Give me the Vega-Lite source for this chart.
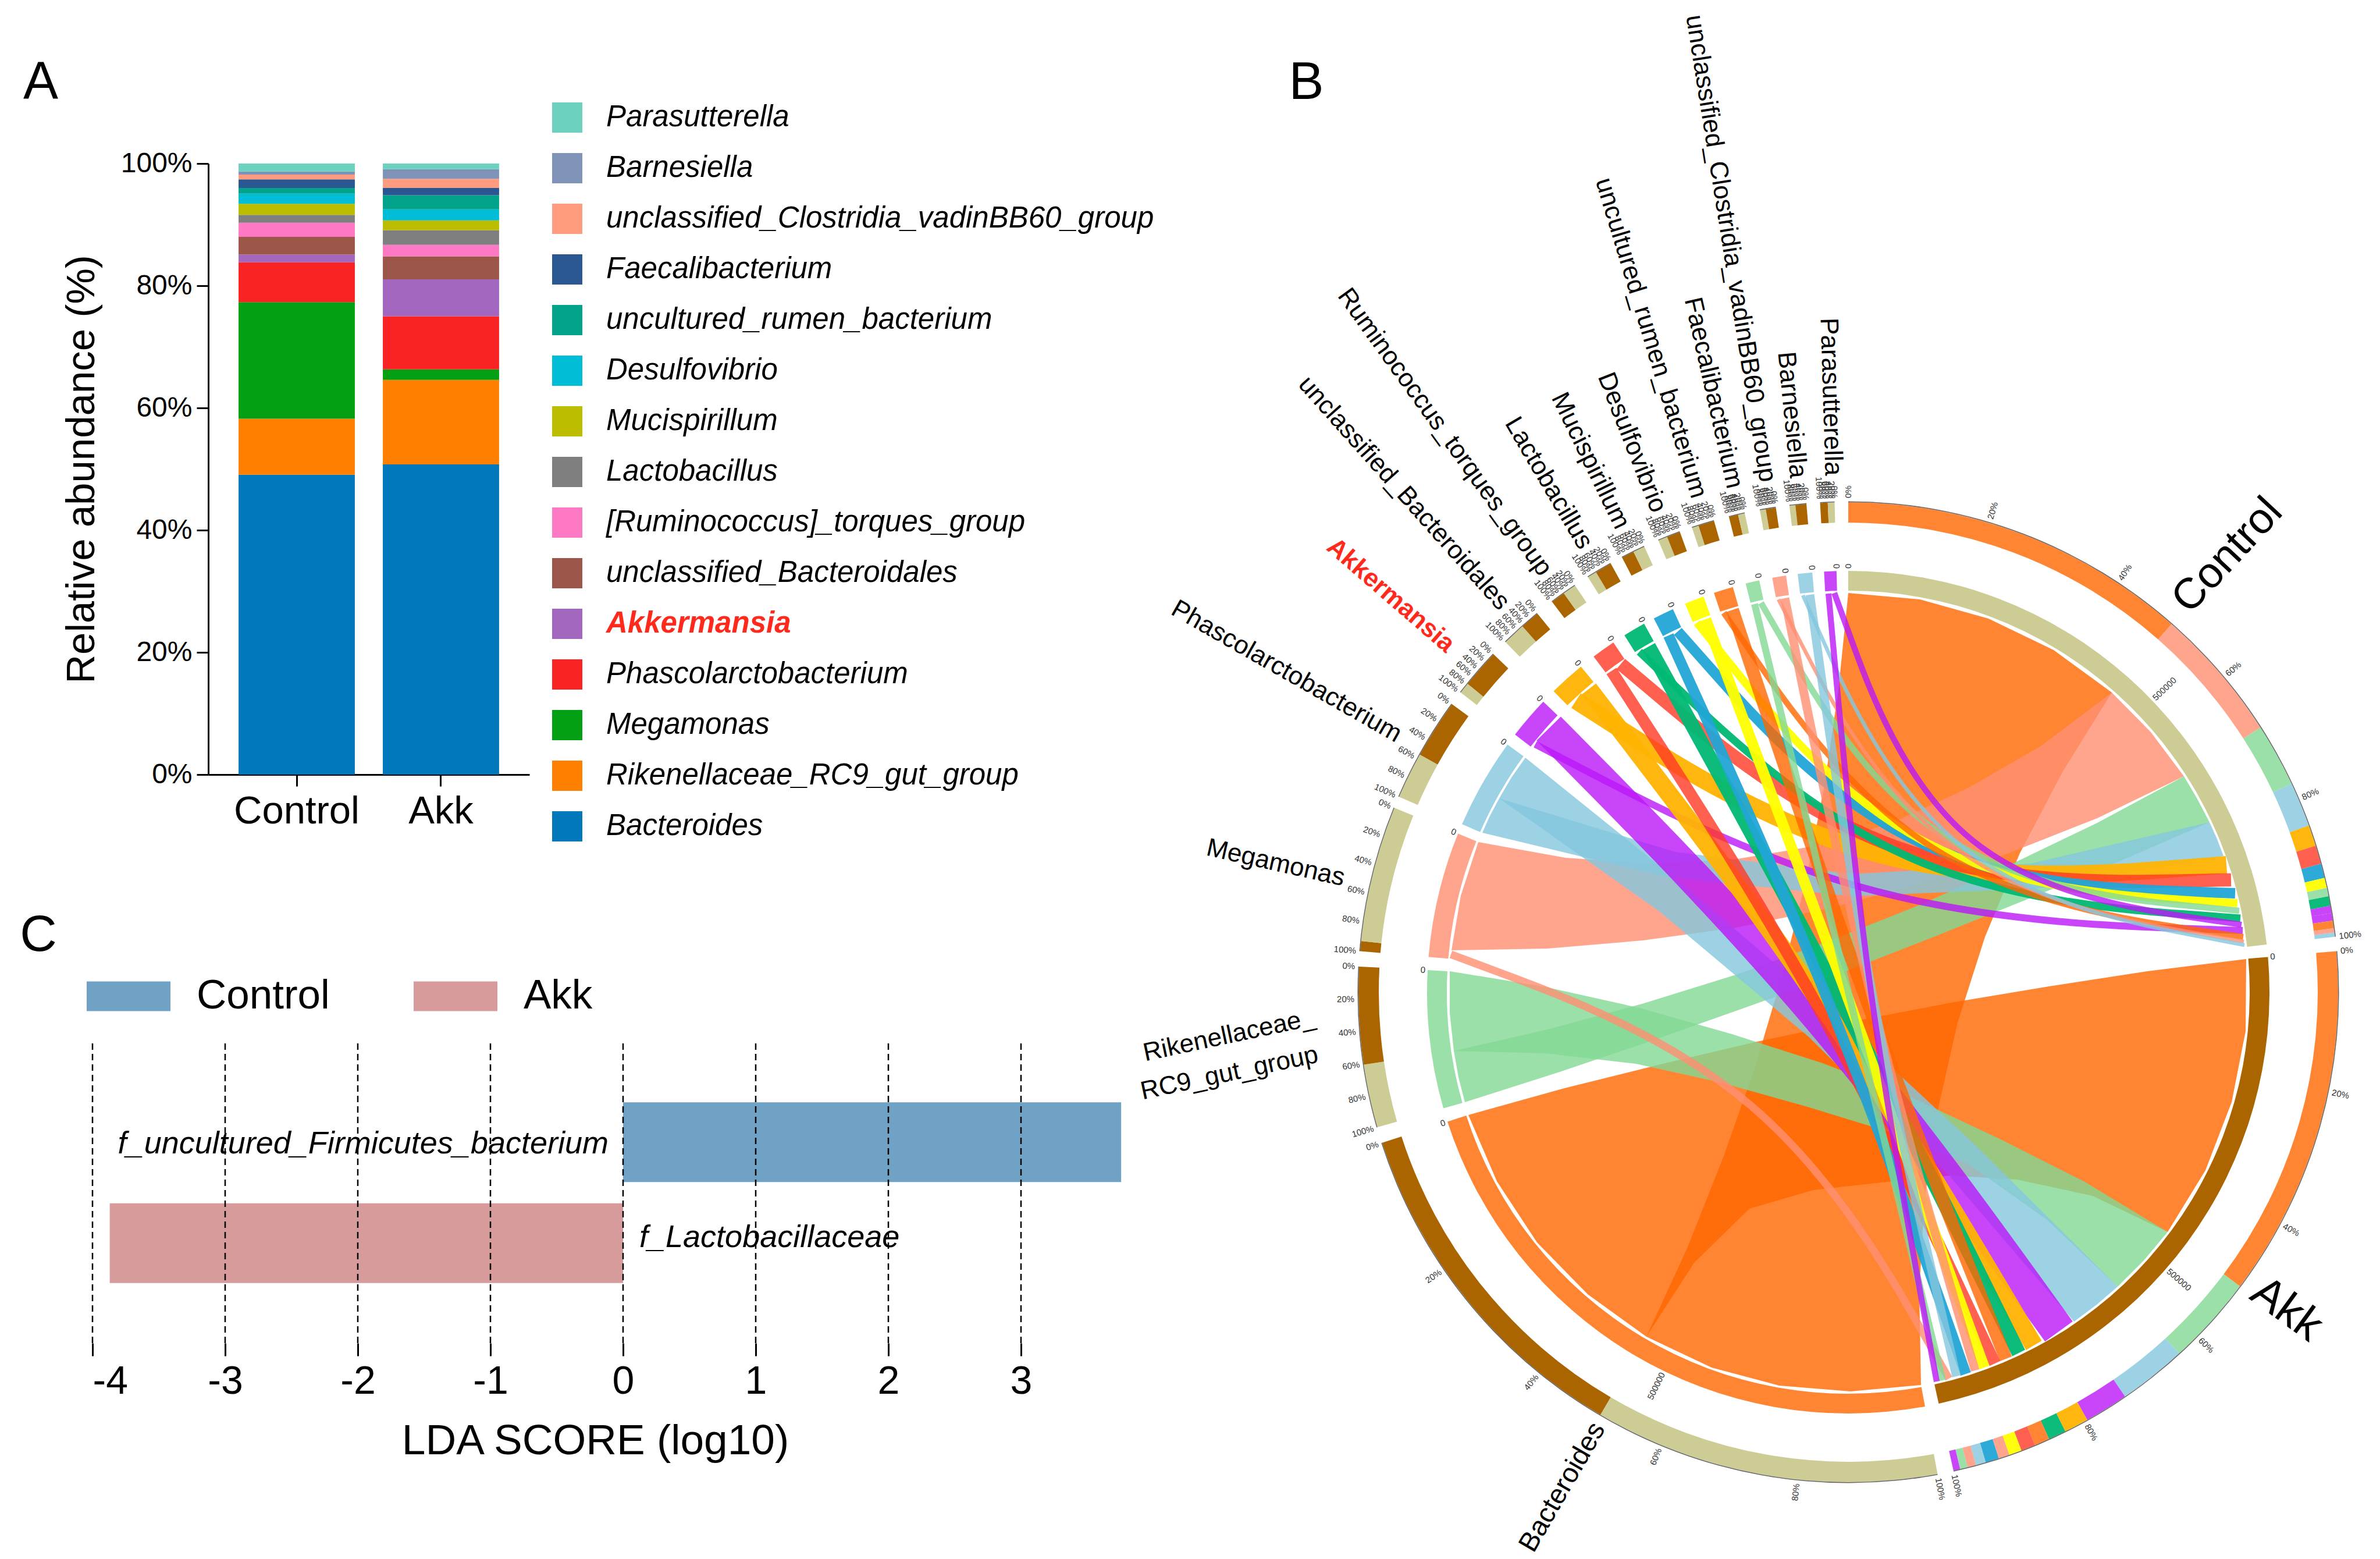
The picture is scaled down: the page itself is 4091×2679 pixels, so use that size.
{"$schema":"https://vega.github.io/schema/vega-lite/v6.json","width":4091,"height":2679,"padding":0,"autosize":{"type":"none"},"background":"white",
"config":{"view":{"stroke":null},"font":"Liberation Sans","axis":{"labelFont":"Liberation Sans","titleFont":"Liberation Sans","labelLimit":1500,"titleLimit":2000},"legend":{"labelFont":"Liberation Sans","labelLimit":1500},"text":{"font":"Liberation Sans"}},
"datasets":{
"abund":[
{"group":"Control","genus":"Bacteroides","rank":1,"abundance":49.06},{"group":"Control","genus":"Rikenellaceae_RC9_gut_group","rank":2,"abundance":9.19},{"group":"Control","genus":"Megamonas","rank":3,"abundance":19.05},{"group":"Control","genus":"Phascolarctobacterium","rank":4,"abundance":6.54},{"group":"Control","genus":"Akkermansia","rank":5,"abundance":1.26},{"group":"Control","genus":"unclassified_Bacteroidales","rank":6,"abundance":2.9},{"group":"Control","genus":"[Ruminococcus]_torques_group","rank":7,"abundance":2.3},{"group":"Control","genus":"Lactobacillus","rank":8,"abundance":1.3},{"group":"Control","genus":"Mucispirillum","rank":9,"abundance":1.8},{"group":"Control","genus":"Desulfovibrio","rank":10,"abundance":1.67},{"group":"Control","genus":"uncultured_rumen_bacterium","rank":11,"abundance":0.93},{"group":"Control","genus":"Faecalibacterium","rank":12,"abundance":1.4},{"group":"Control","genus":"unclassified_Clostridia_vadinBB60_group","rank":13,"abundance":0.8},{"group":"Control","genus":"Barnesiella","rank":14,"abundance":0.5},{"group":"Control","genus":"Parasutterella","rank":15,"abundance":1.3},
{"group":"Akk","genus":"Bacteroides","rank":1,"abundance":50.77},{"group":"Akk","genus":"Rikenellaceae_RC9_gut_group","rank":2,"abundance":13.83},{"group":"Akk","genus":"Megamonas","rank":3,"abundance":1.7},{"group":"Akk","genus":"Phascolarctobacterium","rank":4,"abundance":8.7},{"group":"Akk","genus":"Akkermansia","rank":5,"abundance":6.04},{"group":"Akk","genus":"unclassified_Bacteroidales","rank":6,"abundance":3.76},{"group":"Akk","genus":"[Ruminococcus]_torques_group","rank":7,"abundance":1.9},{"group":"Akk","genus":"Lactobacillus","rank":8,"abundance":2.4},{"group":"Akk","genus":"Mucispirillum","rank":9,"abundance":1.6},{"group":"Akk","genus":"Desulfovibrio","rank":10,"abundance":1.8},{"group":"Akk","genus":"uncultured_rumen_bacterium","rank":11,"abundance":2.3},{"group":"Akk","genus":"Faecalibacterium","rank":12,"abundance":1.2},{"group":"Akk","genus":"unclassified_Clostridia_vadinBB60_group","rank":13,"abundance":1.5},{"group":"Akk","genus":"Barnesiella","rank":14,"abundance":1.57},{"group":"Akk","genus":"Parasutterella","rank":15,"abundance":0.93}],
"lda":[{"feature":"f_uncultured_Firmicutes_bacterium","group":"Control","score":3.755},{"feature":"f_Lactobacillaceae","group":"Akk","score":-3.87}],
"ldaTicks":[{"score":-4},{"score":-3},{"score":-2},{"score":-1},{"score":0},{"score":1},{"score":2},{"score":3}],
"sectors":[{"name":"Control","start":0,"end":83.5},{"name":"Akk","start":85.2,"end":167.6},{"name":"Bacteroides","start":169.5,"end":252.1},{"name":"Rikenellaceae_RC9_gut_group","start":254,"end":273},{"name":"Megamonas","start":274.8,"end":292.1},{"name":"Phascolarctobacterium","start":293.5,"end":306},{"name":"Akkermansia","start":307.7,"end":313.6},{"name":"unclassified_Bacteroidales","start":315.6,"end":320.6},{"name":"[Ruminococcus]_torques_group","start":322.8,"end":326.1},{"name":"Lactobacillus","start":327.9,"end":331},{"name":"Mucispirillum","start":332.5,"end":335.4},{"name":"Desulfovibrio","start":337.2,"end":339.9},{"name":"uncultured_rumen_bacterium","start":341.4,"end":344.1},{"name":"Faecalibacterium","start":345.9,"end":347.8},{"name":"unclassified_Clostridia_vadinBB60_group","start":349.6,"end":351.5},{"name":"Barnesiella","start":353.1,"end":355.1},{"name":"Parasutterella","start":356.7,"end":358.4}],
"segments":[
{"key":"Bacteroides","start":0,"end":41.3},{"key":"Megamonas","start":41.3,"end":57.3},{"key":"Rikenellaceae_RC9_gut_group","start":57.3,"end":64.8},{"key":"Phascolarctobacterium","start":64.8,"end":70.1},{"key":"unclassified_Bacteroidales","start":70.1,"end":72.6},{"key":"[Ruminococcus]_torques_group","start":72.6,"end":74.8},{"key":"Mucispirillum","start":74.8,"end":76.5},{"key":"Desulfovibrio","start":76.5,"end":77.7},{"key":"Faecalibacterium","start":77.7,"end":78.7},{"key":"Lactobacillus","start":78.7,"end":79.85},{"key":"Parasutterella","start":79.85,"end":80.7},{"key":"Akkermansia","start":80.7,"end":81.6},{"key":"uncultured_rumen_bacterium","start":81.6,"end":82.5},{"key":"unclassified_Clostridia_vadinBB60_group","start":82.5,"end":83},{"key":"Barnesiella","start":83,"end":83.5},
{"key":"Bacteroides","start":85.2,"end":126.9},{"key":"Rikenellaceae_RC9_gut_group","start":126.9,"end":137.5},{"key":"Phascolarctobacterium","start":137.5,"end":145.6},{"key":"Akkermansia","start":145.6,"end":150.8},{"key":"unclassified_Bacteroidales","start":150.8,"end":153.7},{"key":"Lactobacillus","start":153.7,"end":155.8},{"key":"uncultured_rumen_bacterium","start":155.8,"end":157.6},{"key":"[Ruminococcus]_torques_group","start":157.6,"end":159.3},{"key":"Desulfovibrio","start":159.3,"end":160.8},{"key":"unclassified_Clostridia_vadinBB60_group","start":160.8,"end":162.1},{"key":"Mucispirillum","start":162.1,"end":163.7},{"key":"Barnesiella","start":163.7,"end":164.9},{"key":"Megamonas","start":164.9,"end":165.9},{"key":"Faecalibacterium","start":165.9,"end":166.8},{"key":"Parasutterella","start":166.8,"end":167.6},
{"key":"Control","start":169.5,"end":210.4},{"key":"Akk","start":210.4,"end":252.1},{"key":"Control","start":254,"end":261.5},{"key":"Akk","start":261.5,"end":273},{"key":"Akk","start":274.8,"end":276},{"key":"Control","start":276,"end":292.1},{"key":"Control","start":293.5,"end":299},{"key":"Akk","start":299,"end":306},{"key":"Control","start":307.7,"end":309},{"key":"Akk","start":309,"end":313.6},{"key":"Control","start":315.6,"end":318.3},{"key":"Akk","start":318.3,"end":320.6},{"key":"Akk","start":322.8,"end":324.5},{"key":"Control","start":324.5,"end":326.1},{"key":"Control","start":327.9,"end":329},{"key":"Akk","start":329,"end":331},{"key":"Akk","start":332.5,"end":334},{"key":"Control","start":334,"end":335.4},{"key":"Control","start":337.2,"end":338.3},{"key":"Akk","start":338.3,"end":339.9},{"key":"Control","start":341.4,"end":342.2},{"key":"Akk","start":342.2,"end":344.1},{"key":"Akk","start":345.9,"end":347},{"key":"Control","start":347,"end":347.8},{"key":"Control","start":349.6,"end":350.3},{"key":"Akk","start":350.3,"end":351.5},{"key":"Control","start":353.1,"end":353.8},{"key":"Akk","start":353.8,"end":355.1},{"key":"Akk","start":356.7,"end":357.6},{"key":"Control","start":357.6,"end":358.4}],
"ribbons":[
{"id":"BC","species":"Bacteroides","i":0,"x":0,"y":686},{"id":"BC","species":"Bacteroides","i":1,"x":123,"y":675},{"id":"BC","species":"Bacteroides","i":2,"x":241,"y":642},{"id":"BC","species":"Bacteroides","i":3,"x":353,"y":588},{"id":"BC","species":"Bacteroides","i":4,"x":453,"y":515},{"id":"BC","species":"Bacteroides","i":4.5,"x":368,"y":378},{"id":"BC","species":"Bacteroides","i":5,"x":295,"y":239},{"id":"BC","species":"Bacteroides","i":5.5,"x":235,"y":95},{"id":"BC","species":"Bacteroides","i":6,"x":188,"y":-52},{"id":"BC","species":"Bacteroides","i":6.5,"x":154,"y":-202},{"id":"BC","species":"Bacteroides","i":7,"x":131,"y":-357},{"id":"BC","species":"Bacteroides","i":7.5,"x":122,"y":-514},{"id":"BC","species":"Bacteroides","i":8,"x":125,"y":-675},{"id":"BC","species":"Bacteroides","i":9,"x":4,"y":-686},{"id":"BC","species":"Bacteroides","i":10,"x":-119,"y":-676},{"id":"BC","species":"Bacteroides","i":11,"x":-235,"y":-645},{"id":"BC","species":"Bacteroides","i":12,"x":-347,"y":-592},{"id":"BC","species":"Bacteroides","i":12.5,"x":-277,"y":-440},{"id":"BC","species":"Bacteroides","i":13,"x":-215,"y":-284},{"id":"BC","species":"Bacteroides","i":13.5,"x":-160,"y":-128},{"id":"BC","species":"Bacteroides","i":14,"x":-113,"y":31},{"id":"BC","species":"Bacteroides","i":14.5,"x":-73,"y":191},{"id":"BC","species":"Bacteroides","i":15,"x":-41,"y":355},{"id":"BC","species":"Bacteroides","i":15.5,"x":-17,"y":519},
{"id":"BA","species":"Bacteroides","i":0,"x":684,"y":57},{"id":"BA","species":"Bacteroides","i":1,"x":683,"y":-67},{"id":"BA","species":"Bacteroides","i":2,"x":659,"y":-189},{"id":"BA","species":"Bacteroides","i":3,"x":614,"y":-306},{"id":"BA","species":"Bacteroides","i":4,"x":549,"y":-412},{"id":"BA","species":"Bacteroides","i":4.5,"x":420,"y":-350},{"id":"BA","species":"Bacteroides","i":5,"x":290,"y":-322},{"id":"BA","species":"Bacteroides","i":5.5,"x":175,"y":-315},{"id":"BA","species":"Bacteroides","i":6,"x":66,"y":-326},{"id":"BA","species":"Bacteroides","i":6.5,"x":-60,"y":-340},{"id":"BA","species":"Bacteroides","i":7,"x":-170,"y":-372},{"id":"BA","species":"Bacteroides","i":8,"x":-265,"y":-465},{"id":"BA","species":"Bacteroides","i":9,"x":-347,"y":-592},{"id":"BA","species":"Bacteroides","i":10,"x":-448,"y":-519},{"id":"BA","species":"Bacteroides","i":11,"x":-535,"y":-430},{"id":"BA","species":"Bacteroides","i":12,"x":-604,"y":-325},{"id":"BA","species":"Bacteroides","i":13,"x":-653,"y":-211},{"id":"BA","species":"Bacteroides","i":13.5,"x":-488,"y":-165},{"id":"BA","species":"Bacteroides","i":14,"x":-323,"y":-124},{"id":"BA","species":"Bacteroides","i":14.5,"x":-157,"y":-85},{"id":"BA","species":"Bacteroides","i":15,"x":10,"y":-50},{"id":"BA","species":"Bacteroides","i":15.5,"x":177,"y":-18},{"id":"BA","species":"Bacteroides","i":16,"x":345,"y":10},{"id":"BA","species":"Bacteroides","i":16.5,"x":514,"y":36},
{"id":"MC","species":"Megamonas","i":0,"x":453,"y":515},{"id":"MC","species":"Megamonas","i":1,"x":520,"y":447},{"id":"MC","species":"Megamonas","i":2,"x":577,"y":371},{"id":"MC","species":"Megamonas","i":2.5,"x":428,"y":299},{"id":"MC","species":"Megamonas","i":3,"x":276,"y":239},{"id":"MC","species":"Megamonas","i":3.5,"x":122,"y":186},{"id":"MC","species":"Megamonas","i":4,"x":-34,"y":144},{"id":"MC","species":"Megamonas","i":4.5,"x":-192,"y":111},{"id":"MC","species":"Megamonas","i":5,"x":-353,"y":89},{"id":"MC","species":"Megamonas","i":5.5,"x":-517,"y":75},{"id":"MC","species":"Megamonas","i":6,"x":-682,"y":72},{"id":"MC","species":"Megamonas","i":7,"x":-666,"y":166},{"id":"MC","species":"Megamonas","i":8,"x":-636,"y":258},{"id":"MC","species":"Megamonas","i":8.5,"x":-486,"y":231},{"id":"MC","species":"Megamonas","i":9,"x":-340,"y":221},{"id":"MC","species":"Megamonas","i":9.5,"x":-197,"y":228},{"id":"MC","species":"Megamonas","i":10,"x":-59,"y":251},{"id":"MC","species":"Megamonas","i":10.5,"x":75,"y":291},{"id":"MC","species":"Megamonas","i":11,"x":204,"y":350},{"id":"MC","species":"Megamonas","i":11.5,"x":331,"y":423},
{"id":"RC","species":"Rikenellaceae_RC9_gut_group","i":0,"x":577,"y":371},{"id":"RC","species":"Rikenellaceae_RC9_gut_group","i":1,"x":600,"y":332},{"id":"RC","species":"Rikenellaceae_RC9_gut_group","i":2,"x":621,"y":292},{"id":"RC","species":"Rikenellaceae_RC9_gut_group","i":2.5,"x":464,"y":224},{"id":"RC","species":"Rikenellaceae_RC9_gut_group","i":3,"x":306,"y":159},{"id":"RC","species":"Rikenellaceae_RC9_gut_group","i":3.5,"x":147,"y":95},{"id":"RC","species":"Rikenellaceae_RC9_gut_group","i":4,"x":-12,"y":33},{"id":"RC","species":"Rikenellaceae_RC9_gut_group","i":4.5,"x":-173,"y":-25},{"id":"RC","species":"Rikenellaceae_RC9_gut_group","i":5,"x":-334,"y":-82},{"id":"RC","species":"Rikenellaceae_RC9_gut_group","i":5.5,"x":-496,"y":-137},{"id":"RC","species":"Rikenellaceae_RC9_gut_group","i":6,"x":-659,"y":-189},{"id":"RC","species":"Rikenellaceae_RC9_gut_group","i":7,"x":-670,"y":-146},{"id":"RC","species":"Rikenellaceae_RC9_gut_group","i":8,"x":-678,"y":-101},{"id":"RC","species":"Rikenellaceae_RC9_gut_group","i":8.5,"x":-513,"y":-63},{"id":"RC","species":"Rikenellaceae_RC9_gut_group","i":9,"x":-351,"y":-19},{"id":"RC","species":"Rikenellaceae_RC9_gut_group","i":9.5,"x":-190,"y":31},{"id":"RC","species":"Rikenellaceae_RC9_gut_group","i":10,"x":-33,"y":88},{"id":"RC","species":"Rikenellaceae_RC9_gut_group","i":10.5,"x":123,"y":150},{"id":"RC","species":"Rikenellaceae_RC9_gut_group","i":11,"x":276,"y":218},{"id":"RC","species":"Rikenellaceae_RC9_gut_group","i":11.5,"x":428,"y":291},
{"id":"RA","species":"Rikenellaceae_RC9_gut_group","i":0,"x":549,"y":-412},{"id":"RA","species":"Rikenellaceae_RC9_gut_group","i":1,"x":508,"y":-461},{"id":"RA","species":"Rikenellaceae_RC9_gut_group","i":2,"x":463,"y":-506},{"id":"RA","species":"Rikenellaceae_RC9_gut_group","i":2.5,"x":340,"y":-390},{"id":"RA","species":"Rikenellaceae_RC9_gut_group","i":3,"x":206,"y":-295},{"id":"RA","species":"Rikenellaceae_RC9_gut_group","i":3.5,"x":70,"y":-240},{"id":"RA","species":"Rikenellaceae_RC9_gut_group","i":4,"x":-70,"y":-197},{"id":"RA","species":"Rikenellaceae_RC9_gut_group","i":4.5,"x":-220,"y":-155},{"id":"RA","species":"Rikenellaceae_RC9_gut_group","i":5,"x":-365,"y":-123},{"id":"RA","species":"Rikenellaceae_RC9_gut_group","i":5.5,"x":-520,"y":-105},{"id":"RA","species":"Rikenellaceae_RC9_gut_group","i":6,"x":-678,"y":-101},{"id":"RA","species":"Rikenellaceae_RC9_gut_group","i":7,"x":-685,"y":-36},{"id":"RA","species":"Rikenellaceae_RC9_gut_group","i":8,"x":-685,"y":36},{"id":"RA","species":"Rikenellaceae_RC9_gut_group","i":8.5,"x":-525,"y":10},{"id":"RA","species":"Rikenellaceae_RC9_gut_group","i":9,"x":-359,"y":-27},{"id":"RA","species":"Rikenellaceae_RC9_gut_group","i":9.5,"x":-200,"y":-72},{"id":"RA","species":"Rikenellaceae_RC9_gut_group","i":10,"x":-44,"y":-122},{"id":"RA","species":"Rikenellaceae_RC9_gut_group","i":10.5,"x":107,"y":-180},{"id":"RA","species":"Rikenellaceae_RC9_gut_group","i":11,"x":258,"y":-251},{"id":"RA","species":"Rikenellaceae_RC9_gut_group","i":11.5,"x":405,"y":-325},
{"id":"PC","species":"Phascolarctobacterium","i":0,"x":621,"y":292},{"id":"PC","species":"Phascolarctobacterium","i":1,"x":634,"y":263},{"id":"PC","species":"Phascolarctobacterium","i":2,"x":645,"y":234},{"id":"PC","species":"Phascolarctobacterium","i":3,"x":324,"y":178},{"id":"PC","species":"Phascolarctobacterium","i":4,"x":5,"y":165},{"id":"PC","species":"Phascolarctobacterium","i":5,"x":-312,"y":198},{"id":"PC","species":"Phascolarctobacterium","i":6,"x":-629,"y":274},{"id":"PC","species":"Phascolarctobacterium","i":7,"x":-617,"y":301},{"id":"PC","species":"Phascolarctobacterium","i":8,"x":-600,"y":333},{"id":"PC","species":"Phascolarctobacterium","i":9,"x":-297,"y":241},{"id":"PC","species":"Phascolarctobacterium","i":10,"x":7,"y":203},{"id":"PC","species":"Phascolarctobacterium","i":11,"x":313,"y":221},
{"id":"PA","species":"Phascolarctobacterium","i":0,"x":463,"y":-506},{"id":"PA","species":"Phascolarctobacterium","i":1,"x":427,"y":-537},{"id":"PA","species":"Phascolarctobacterium","i":2,"x":388,"y":-566},{"id":"PA","species":"Phascolarctobacterium","i":3,"x":169,"y":-310},{"id":"PA","species":"Phascolarctobacterium","i":4,"x":-69,"y":-76},{"id":"PA","species":"Phascolarctobacterium","i":5,"x":-325,"y":139},{"id":"PA","species":"Phascolarctobacterium","i":6,"x":-600,"y":333},{"id":"PA","species":"Phascolarctobacterium","i":7,"x":-579,"y":369},{"id":"PA","species":"Phascolarctobacterium","i":8,"x":-555,"y":403},{"id":"PA","species":"Phascolarctobacterium","i":9,"x":-289,"y":189},{"id":"PA","species":"Phascolarctobacterium","i":10,"x":-30,"y":-33},{"id":"PA","species":"Phascolarctobacterium","i":11,"x":221,"y":-265}],
"flows":[
{"id":"UC","species":"unclassified_Bacteroidales","span":2.5,"i":0,"x":-468,"y":501},{"id":"UC","species":"unclassified_Bacteroidales","span":2.5,"i":1,"x":44,"y":173},{"id":"UC","species":"unclassified_Bacteroidales","span":2.5,"i":2,"x":650,"y":219},
{"id":"TC","species":"[Ruminococcus]_torques_group","span":1.9,"i":0,"x":-391,"y":564},{"id":"TC","species":"[Ruminococcus]_torques_group","span":1.9,"i":1,"x":64,"y":182},{"id":"TC","species":"[Ruminococcus]_torques_group","span":1.9,"i":2,"x":658,"y":193},
{"id":"MuC","species":"Mucispirillum","span":1.5,"i":0,"x":-293,"y":620},{"id":"MuC","species":"Mucispirillum","span":1.5,"i":1,"x":89,"y":190},{"id":"MuC","species":"Mucispirillum","span":1.5,"i":2,"x":665,"y":170},
{"id":"DC","species":"Desulfovibrio","span":1.15,"i":0,"x":-260,"y":635},{"id":"DC","species":"Desulfovibrio","span":1.15,"i":1,"x":98,"y":189},{"id":"DC","species":"Desulfovibrio","span":1.15,"i":2,"x":669,"y":153},
{"id":"FC","species":"Faecalibacterium","span":0.9,"i":0,"x":-150,"y":669},{"id":"FC","species":"Faecalibacterium","span":0.9,"i":1,"x":125,"y":194},{"id":"FC","species":"Faecalibacterium","span":0.9,"i":2,"x":672,"y":140},
{"id":"LC","species":"Lactobacillus","span":1.1,"i":0,"x":-359,"y":585},{"id":"LC","species":"Lactobacillus","span":1.1,"i":1,"x":76,"y":171},{"id":"LC","species":"Lactobacillus","span":1.1,"i":2,"x":674,"y":127},
{"id":"PsC","species":"Parasutterella","span":0.85,"i":0,"x":-24,"y":686},{"id":"PsC","species":"Parasutterella","span":0.85,"i":1,"x":156,"y":192},{"id":"PsC","species":"Parasutterella","span":0.85,"i":2,"x":676,"y":116},
{"id":"AC","species":"Akkermansia","span":1.0,"i":0,"x":-538,"y":426},{"id":"AC","species":"Akkermansia","span":1.0,"i":1,"x":34,"y":128},{"id":"AC","species":"Akkermansia","span":1.0,"i":2,"x":678,"y":106},
{"id":"UrC","species":"uncultured_rumen_bacterium","span":0.85,"i":0,"x":-214,"y":652},{"id":"UrC","species":"uncultured_rumen_bacterium","span":0.85,"i":1,"x":112,"y":179},{"id":"UrC","species":"uncultured_rumen_bacterium","span":0.85,"i":2,"x":679,"y":95},
{"id":"ClC","species":"unclassified_Clostridia_vadinBB60_group","span":0.55,"i":0,"x":-120,"y":675},{"id":"ClC","species":"unclassified_Clostridia_vadinBB60_group","span":0.55,"i":1,"x":134,"y":183},{"id":"ClC","species":"unclassified_Clostridia_vadinBB60_group","span":0.55,"i":2,"x":680,"y":87},
{"id":"BaC","species":"Barnesiella","span":0.55,"i":0,"x":-78,"y":682},{"id":"BaC","species":"Barnesiella","span":0.55,"i":1,"x":145,"y":183},{"id":"BaC","species":"Barnesiella","span":0.55,"i":2,"x":681,"y":81},
{"id":"AA","species":"Akkermansia","span":4.9,"i":0,"x":-515,"y":453},{"id":"AA","species":"Akkermansia","span":4.9,"i":1,"x":-37,"y":-31},{"id":"AA","species":"Akkermansia","span":4.9,"i":2,"x":362,"y":-583},
{"id":"UA","species":"unclassified_Bacteroidales","span":2.6,"i":0,"x":-446,"y":521},{"id":"UA","species":"unclassified_Bacteroidales","span":2.6,"i":1,"x":-30,"y":-21},{"id":"UA","species":"unclassified_Bacteroidales","span":2.6,"i":2,"x":319,"y":-607},
{"id":"LA","species":"Lactobacillus","span":2.05,"i":0,"x":-343,"y":594},{"id":"LA","species":"Lactobacillus","span":2.05,"i":1,"x":-12,"y":-6},{"id":"LA","species":"Lactobacillus","span":2.05,"i":2,"x":293,"y":-620},
{"id":"UrA","species":"uncultured_rumen_bacterium","span":1.85,"i":0,"x":-199,"y":657},{"id":"UrA","species":"uncultured_rumen_bacterium","span":1.85,"i":1,"x":17,"y":6},{"id":"UrA","species":"uncultured_rumen_bacterium","span":1.85,"i":2,"x":271,"y":-630},
{"id":"TA","species":"[Ruminococcus]_torques_group","span":1.7,"i":0,"x":-407,"y":552},{"id":"TA","species":"[Ruminococcus]_torques_group","span":1.7,"i":1,"x":-37,"y":-21},{"id":"TA","species":"[Ruminococcus]_torques_group","span":1.7,"i":2,"x":252,"y":-638},
{"id":"DA","species":"Desulfovibrio","span":1.55,"i":0,"x":-245,"y":641},{"id":"DA","species":"Desulfovibrio","span":1.55,"i":1,"x":-3,"y":-1},{"id":"DA","species":"Desulfovibrio","span":1.55,"i":2,"x":234,"y":-645},
{"id":"ClA","species":"unclassified_Clostridia_vadinBB60_group","span":1.25,"i":0,"x":-109,"y":677},{"id":"ClA","species":"unclassified_Clostridia_vadinBB60_group","span":1.25,"i":1,"x":26,"y":6},{"id":"ClA","species":"unclassified_Clostridia_vadinBB60_group","span":1.25,"i":2,"x":218,"y":-650},
{"id":"MuA","species":"Mucispirillum","span":1.55,"i":0,"x":-309,"y":613},{"id":"MuA","species":"Mucispirillum","span":1.55,"i":1,"x":-26,"y":-10},{"id":"MuA","species":"Mucispirillum","span":1.55,"i":2,"x":202,"y":-656},
{"id":"BaA","species":"Barnesiella","span":1.25,"i":0,"x":-66,"y":683},{"id":"BaA","species":"Barnesiella","span":1.25,"i":1,"x":29,"y":6},{"id":"BaA","species":"Barnesiella","span":1.25,"i":2,"x":186,"y":-660},
{"id":"MA","species":"Megamonas","span":1.1,"i":0,"x":-683,"y":65},{"id":"MA","species":"Megamonas","span":1.1,"i":1,"x":-122,"y":-144},{"id":"MA","species":"Megamonas","span":1.1,"i":2,"x":173,"y":-664},
{"id":"FA","species":"Faecalibacterium","span":1.0,"i":0,"x":-161,"y":667},{"id":"FA","species":"Faecalibacterium","span":1.0,"i":1,"x":0,"y":0},{"id":"FA","species":"Faecalibacterium","span":1.0,"i":2,"x":162,"y":-667},
{"id":"PsA","species":"Parasutterella","span":0.85,"i":0,"x":-34,"y":685},{"id":"PsA","species":"Parasutterella","span":0.85,"i":1,"x":28,"y":4},{"id":"PsA","species":"Parasutterella","span":0.85,"i":2,"x":152,"y":-669}],
"ringTicks":[
{"t":"0%","theta":0},{"t":"20%","theta":16.7},{"t":"40%","theta":33.4},{"t":"60%","theta":50},{"t":"80%","theta":66.8},{"t":"100%","theta":83.5},
{"t":"0%","theta":85.2},{"t":"20%","theta":101.7},{"t":"40%","theta":118.2},{"t":"60%","theta":134.6},{"t":"80%","theta":151.1},{"t":"100%","theta":167.6},
{"t":"0%","theta":252.1},{"t":"20%","theta":235.6},{"t":"40%","theta":219.1},{"t":"60%","theta":202.5},{"t":"80%","theta":186},{"t":"100%","theta":169.5},
{"t":"0%","theta":273},{"t":"20%","theta":269.2},{"t":"40%","theta":265.4},{"t":"60%","theta":261.6},{"t":"80%","theta":257.8},{"t":"100%","theta":254},
{"t":"0%","theta":292.1},{"t":"20%","theta":288.6},{"t":"40%","theta":285.2},{"t":"60%","theta":281.7},{"t":"80%","theta":278.3},{"t":"100%","theta":274.8},
{"t":"0%","theta":306},{"t":"20%","theta":303.5},{"t":"40%","theta":301},{"t":"60%","theta":298.5},{"t":"80%","theta":296},{"t":"100%","theta":293.5},
{"t":"0%","theta":313.6},{"t":"20%","theta":312.4},{"t":"40%","theta":311.2},{"t":"60%","theta":310.1},{"t":"80%","theta":308.9},{"t":"100%","theta":307.7},
{"t":"0%","theta":320.6},{"t":"20%","theta":319.6},{"t":"40%","theta":318.6},{"t":"60%","theta":317.6},{"t":"80%","theta":316.6},{"t":"100%","theta":315.6},
{"t":"0%","theta":326.1},{"t":"20%","theta":325.4},{"t":"40%","theta":324.8},{"t":"60%","theta":324.1},{"t":"80%","theta":323.5},{"t":"100%","theta":322.8},
{"t":"0%","theta":331},{"t":"20%","theta":330.4},{"t":"40%","theta":329.8},{"t":"60%","theta":329.1},{"t":"80%","theta":328.5},{"t":"100%","theta":327.9},
{"t":"0%","theta":335.4},{"t":"20%","theta":334.8},{"t":"40%","theta":334.2},{"t":"60%","theta":333.7},{"t":"80%","theta":333.1},{"t":"100%","theta":332.5},
{"t":"0%","theta":339.9},{"t":"20%","theta":339.4},{"t":"40%","theta":338.8},{"t":"60%","theta":338.3},{"t":"80%","theta":337.7},{"t":"100%","theta":337.2},
{"t":"0%","theta":344.1},{"t":"20%","theta":343.6},{"t":"40%","theta":343},{"t":"60%","theta":342.5},{"t":"80%","theta":341.9},{"t":"100%","theta":341.4},
{"t":"0%","theta":347.8},{"t":"20%","theta":347.4},{"t":"40%","theta":347},{"t":"60%","theta":346.7},{"t":"80%","theta":346.3},{"t":"100%","theta":345.9},
{"t":"0%","theta":351.5},{"t":"20%","theta":351.1},{"t":"40%","theta":350.7},{"t":"60%","theta":350.4},{"t":"80%","theta":350},{"t":"100%","theta":349.6},
{"t":"0%","theta":355.1},{"t":"20%","theta":354.7},{"t":"40%","theta":354.3},{"t":"60%","theta":353.9},{"t":"80%","theta":353.5},{"t":"100%","theta":353.1},
{"t":"0%","theta":358.4},{"t":"20%","theta":358.1},{"t":"40%","theta":357.7},{"t":"60%","theta":357.4},{"t":"80%","theta":357},{"t":"100%","theta":356.7}],
"innerTicks":[{"t":"0","theta":0},{"t":"500000","theta":46.2},{"t":"0","theta":85.2},{"t":"500000","theta":131},{"t":"0","theta":252.1},{"t":"500000","theta":206},{"t":"0","theta":273},{"t":"0","theta":292.1},{"t":"0","theta":306},{"t":"0","theta":313.6},{"t":"0","theta":320.6},{"t":"0","theta":326.1},{"t":"0","theta":331},{"t":"0","theta":335.4},{"t":"0","theta":339.9},{"t":"0","theta":344.1},{"t":"0","theta":347.8},{"t":"0","theta":351.5},{"t":"0","theta":355.1},{"t":"0","theta":358.4}],
"names":[{"label":"Megamonas","theta":282.7},{"label":"Phascolarctobacterium","theta":299.7},{"label":"unclassified_Bacteroidales","theta":318.3},{"label":"Ruminococcus_torques_group","theta":324.2},{"label":"Lactobacillus","theta":329.5},{"label":"Mucispirillum","theta":334.1},{"label":"Desulfovibrio","theta":338.5},{"label":"uncultured_rumen_bacterium","theta":343.2},{"label":"Faecalibacterium","theta":347.3},{"label":"unclassified_Clostridia_vadinBB60_group","theta":351},{"label":"Barnesiella","theta":354.4},{"label":"Parasutterella","theta":358.3}]
},
"resolve":{"scale":{"x":"independent","y":"independent","color":"independent"},"axis":{"x":"independent","y":"independent"},"legend":{"color":"independent"}},
"layer":[
{"data":{"name":"abund"},"layer":[
{"mark":{"type":"bar"},"encoding":{
"x":{"field":"group","type":"nominal","title":null,"scale":{"domain":["Control","Akk"],"range":[358,910],"paddingInner":0.194,"paddingOuter":0.21},"axis":{"orient":"bottom","offset":-1348,"labelAngle":0,"labelFontSize":67,"labelColor":"black","domainColor":"black","domainWidth":3,"tickColor":"black","tickWidth":3,"tickSize":20,"labelPadding":10}},
"y":{"field":"abundance","type":"quantitative","stack":"zero","title":"Relative abundance (%)","scale":{"domain":[0,100],"range":[1331,281],"nice":false},"axis":{"orient":"left","offset":-358,"values":[0,20,40,60,80,100],"labelExpr":"datum.value + '%'","grid":false,"labelFontSize":48,"labelColor":"black","domainColor":"black","domainWidth":3,"tickColor":"black","tickWidth":3,"tickSize":20,"labelPadding":8,"titleFontSize":69,"titleFontWeight":"normal","titleColor":"black","titlePadding":32}},
"order":{"field":"rank","type":"quantitative"},
"color":{"field":"genus","type":"nominal","scale":{"domain":["Parasutterella","Barnesiella","unclassified_Clostridia_vadinBB60_group","Faecalibacterium","uncultured_rumen_bacterium","Desulfovibrio","Mucispirillum","Lactobacillus","[Ruminococcus]_torques_group","unclassified_Bacteroidales","Akkermansia","Phascolarctobacterium","Megamonas","Rikenellaceae_RC9_gut_group","Bacteroides"],"range":["#6DD1C0","#7E93B7","#FF9B7F","#2A5792","#01A38B","#00BCD4","#BDBD00","#7F7F7F","#FD79C4","#9C5649","#A266BE","#FA2323","#02A012","#FF8000","#0277BA"]},
"legend":{"orient":"none","legendX":949,"legendY":176,"title":null,"symbolType":"square","symbolSize":2700,"symbolStrokeWidth":0,"symbolOpacity":1,"labelFontSize":51,"labelFontStyle":"italic","labelOffset":41,"rowPadding":35,"labelColor":"black","encode":{"labels":{"update":{"fill":{"signal":"datum.value === 'Akkermansia' ? '#FF2A1C' : 'black'"},"fontWeight":{"signal":"datum.value === 'Akkermansia' ? 'bold' : 'normal'"}}}}}}}},
{"data":{"values":[{"panel":"A"}]},"mark":{"type":"text","fontSize":90,"dx":-440,"dy":-139,"baseline":"middle","color":"black"},"encoding":{"text":{"field":"panel"},"x":{"datum":"Control","type":"nominal"},"y":{"datum":100,"type":"quantitative"}}}
]},
{"data":{"name":"lda"},"layer":[
{"mark":{"type":"bar"},"encoding":{
"x":{"field":"score","type":"quantitative","title":"LDA SCORE (log10)","scale":{"domain":[-4,3.8],"range":[159,1937.4],"nice":false},"axis":{"orient":"bottom","offset":-371,"values":[-4,-3,-2,-1,0,1,2,3],"grid":false,"domain":false,"tickColor":"black","tickWidth":3,"tickSize":22,"labelFontSize":68,"labelColor":"black","labelPadding":10,"labelExpr":"'' + datum.value","titleFontSize":73,"titleFontWeight":"normal","titleColor":"black","titlePadding":32,"titleX":1023}},
"y":{"field":"feature","type":"nominal","title":null,"axis":null,"scale":{"domain":["f_uncultured_Firmicutes_bacterium","f_Lactobacillaceae"],"range":[1876,2223],"paddingInner":0.21,"paddingOuter":0.105}},
"color":{"field":"group","type":"nominal","scale":{"domain":["Control","Akk"],"range":["#6FA2C4","#D69B9A"]},"legend":{"orient":"none","legendX":149,"legendY":1640,"title":null,"direction":"horizontal","columns":2,"symbolType":"M-1,-0.354H1V0.354H-1Z","symbolSize":20736,"symbolStrokeWidth":0,"symbolOpacity":1,"labelFontSize":71,"labelOffset":45,"columnPadding":144,"labelColor":"black"}}}},
{"transform":[{"filter":"datum.group === 'Control'"}],"mark":{"type":"text","align":"right","baseline":"middle","dx":-25,"dy":3,"fontSize":54,"fontStyle":"italic","color":"black"},"encoding":{"text":{"field":"feature"},"x":{"datum":0,"type":"quantitative"},"y":{"field":"feature","type":"nominal"}}},
{"transform":[{"filter":"datum.group === 'Akk'"}],"mark":{"type":"text","align":"left","baseline":"middle","dx":28,"dy":-9,"fontSize":54,"fontStyle":"italic","color":"black"},"encoding":{"text":{"field":"feature"},"x":{"datum":0,"type":"quantitative"},"y":{"field":"feature","type":"nominal"}}},
{"data":{"values":[{"panel":"C"}]},"mark":{"type":"text","fontSize":88,"dx":-93,"dy":-355,"baseline":"middle","color":"black"},"encoding":{"text":{"field":"panel"},"x":{"datum":-4,"type":"quantitative"},"y":{"datum":"f_uncultured_Firmicutes_bacterium","type":"nominal"}}}
]},
{"data":{"name":"ldaTicks"},"mark":{"type":"rule","stroke":"black","strokeWidth":2.5,"strokeDash":[11,7]},"encoding":{
"x":{"field":"score","type":"quantitative","axis":null,"scale":{"domain":[-4,3.8],"range":[159,1937.4],"nice":false}},
"y":{"datum":0,"type":"quantitative","axis":null,"scale":{"domain":[0,1],"range":[2308,1791],"nice":false}},"y2":{"datum":1}}},
{"resolve":{"scale":{"angle":"independent"}},"layer":[
{"data":{"name":"ribbons"},"mark":{"type":"line","interpolate":"linear-closed","filled":true,"strokeWidth":0},"encoding":{
"x":{"field":"x","type":"quantitative","axis":null,"scale":{"domain":[-3177,914],"range":[0,4091],"nice":false}},
"y":{"field":"y","type":"quantitative","axis":null,"scale":{"domain":[1705,-974],"range":[0,2679],"nice":false}},
"order":{"field":"i","type":"quantitative"},"detail":{"field":"id"},
"color":{"field":"species","type":"nominal","legend":null,"scale":{"domain":["Control","Akk","Bacteroides","uncultured_rumen_bacterium","Megamonas","unclassified_Clostridia_vadinBB60_group","Rikenellaceae_RC9_gut_group","Faecalibacterium","Phascolarctobacterium","Barnesiella","Akkermansia","Parasutterella","unclassified_Bacteroidales","[Ruminococcus]_torques_group","Lactobacillus","Mucispirillum","Desulfovibrio"],"range":["#CDCC95","#AB6500","rgba(255,102,0,0.8)","rgba(255,102,0,0.8)","rgba(255,142,114,0.8)","rgba(255,142,114,0.8)","rgba(130,216,147,0.8)","rgba(130,216,147,0.8)","rgba(132,199,222,0.8)","rgba(132,199,222,0.8)","rgba(186,22,247,0.8)","rgba(186,22,247,0.8)","rgba(255,179,2,0.95)","rgba(255,56,36,0.8)","rgba(0,184,116,0.95)","rgba(34,165,213,0.95)","rgba(255,255,0,0.95)"]}}}},
{"data":{"name":"flows"},"mark":{"type":"line","interpolate":"basis","strokeCap":"butt"},"encoding":{
"x":{"field":"x","type":"quantitative","axis":null,"scale":{"domain":[-3177,914],"range":[0,4091],"nice":false}},
"y":{"field":"y","type":"quantitative","axis":null,"scale":{"domain":[1705,-974],"range":[0,2679],"nice":false}},
"order":{"field":"i","type":"quantitative"},"detail":{"field":"id"},
"strokeWidth":{"field":"span","type":"quantitative","legend":null,"scale":{"type":"linear","domain":[0,1],"range":[0,11.97]}},
"color":{"field":"species","type":"nominal","legend":null,"scale":{"domain":["Control","Akk","Bacteroides","uncultured_rumen_bacterium","Megamonas","unclassified_Clostridia_vadinBB60_group","Rikenellaceae_RC9_gut_group","Faecalibacterium","Phascolarctobacterium","Barnesiella","Akkermansia","Parasutterella","unclassified_Bacteroidales","[Ruminococcus]_torques_group","Lactobacillus","Mucispirillum","Desulfovibrio"],"range":["#CDCC95","#AB6500","rgba(255,102,0,0.8)","rgba(255,102,0,0.8)","rgba(255,142,114,0.8)","rgba(255,142,114,0.8)","rgba(130,216,147,0.8)","rgba(130,216,147,0.8)","rgba(132,199,222,0.8)","rgba(132,199,222,0.8)","rgba(186,22,247,0.8)","rgba(186,22,247,0.8)","rgba(255,179,2,0.95)","rgba(255,56,36,0.8)","rgba(0,184,116,0.95)","rgba(34,165,213,0.95)","rgba(255,255,0,0.95)"]}}}},
{"data":{"name":"sectors"},"mark":{"type":"arc"},"encoding":{
"x":{"datum":0,"type":"quantitative"},"y":{"datum":0,"type":"quantitative"},
"theta":{"field":"start","type":"quantitative","scale":{"domain":[0,360],"range":[0,6.28319]}},"theta2":{"field":"end"},
"radius":{"datum":690,"type":"quantitative","scale":{"type":"linear","domain":[0,2000],"range":[0,2000]}},"radius2":{"datum":724},
"color":{"field":"name","type":"nominal","legend":null}}},
{"data":{"name":"segments"},"mark":{"type":"arc"},"encoding":{
"x":{"datum":0,"type":"quantitative"},"y":{"datum":0,"type":"quantitative"},
"theta":{"field":"start","type":"quantitative","scale":{"domain":[0,360],"range":[0,6.28319]}},"theta2":{"field":"end"},
"radius":{"datum":807,"type":"quantitative","scale":{"type":"linear","domain":[0,2000],"range":[0,2000]}},"radius2":{"datum":842},
"color":{"field":"key","type":"nominal","legend":null}}},
{"data":{"name":"sectors"},"mark":{"type":"arc","color":"#666666"},"encoding":{
"x":{"datum":0,"type":"quantitative"},"y":{"datum":0,"type":"quantitative"},
"theta":{"field":"start","type":"quantitative","scale":{"domain":[0,360],"range":[0,6.28319]}},"theta2":{"field":"end"},
"radius":{"datum":842,"type":"quantitative","scale":{"type":"linear","domain":[0,2000],"range":[0,2000]}},"radius2":{"datum":843.5}}},
{"data":{"name":"ringTicks"},"transform":[{"filter":"datum.theta < 180"}],"mark":{"type":"text","align":"left","baseline":"middle","fontSize":15,"color":"#333333"},"encoding":{
"x":{"datum":0,"type":"quantitative"},"y":{"datum":0,"type":"quantitative"},"text":{"field":"t"},
"theta":{"field":"theta","type":"quantitative","scale":{"domain":[0,360],"range":[0,6.28319]}},
"radius":{"datum":849,"type":"quantitative","scale":{"type":"linear","domain":[0,2000],"range":[0,2000]}},
"angle":{"field":"theta","type":"quantitative","legend":null,"scale":{"domain":[0,180],"range":[-90,90]}}}},
{"data":{"name":"ringTicks"},"transform":[{"filter":"datum.theta >= 180"}],"mark":{"type":"text","align":"right","baseline":"middle","fontSize":15,"color":"#333333"},"encoding":{
"x":{"datum":0,"type":"quantitative"},"y":{"datum":0,"type":"quantitative"},"text":{"field":"t"},
"theta":{"field":"theta","type":"quantitative","scale":{"domain":[0,360],"range":[0,6.28319]}},
"radius":{"datum":849,"type":"quantitative","scale":{"type":"linear","domain":[0,2000],"range":[0,2000]}},
"angle":{"field":"theta","type":"quantitative","legend":null,"scale":{"domain":[180,360],"range":[-90,90]}}}},
{"data":{"name":"innerTicks"},"transform":[{"filter":"datum.theta < 180"}],"mark":{"type":"text","align":"left","baseline":"middle","fontSize":15,"color":"#333333"},"encoding":{
"x":{"datum":0,"type":"quantitative"},"y":{"datum":0,"type":"quantitative"},"text":{"field":"t"},
"theta":{"field":"theta","type":"quantitative","scale":{"domain":[0,360],"range":[0,6.28319]}},
"radius":{"datum":728,"type":"quantitative","scale":{"type":"linear","domain":[0,2000],"range":[0,2000]}},
"angle":{"field":"theta","type":"quantitative","legend":null,"scale":{"domain":[0,180],"range":[-90,90]}}}},
{"data":{"name":"innerTicks"},"transform":[{"filter":"datum.theta >= 180"}],"mark":{"type":"text","align":"right","baseline":"middle","fontSize":15,"color":"#333333"},"encoding":{
"x":{"datum":0,"type":"quantitative"},"y":{"datum":0,"type":"quantitative"},"text":{"field":"t"},
"theta":{"field":"theta","type":"quantitative","scale":{"domain":[0,360],"range":[0,6.28319]}},
"radius":{"datum":728,"type":"quantitative","scale":{"type":"linear","domain":[0,2000],"range":[0,2000]}},
"angle":{"field":"theta","type":"quantitative","legend":null,"scale":{"domain":[180,360],"range":[-90,90]}}}},
{"data":{"name":"names"},"mark":{"type":"text","align":"right","baseline":"middle","fontSize":44,"color":"black"},"encoding":{
"x":{"datum":0,"type":"quantitative"},"y":{"datum":0,"type":"quantitative"},"text":{"field":"label"},
"theta":{"field":"theta","type":"quantitative","scale":{"domain":[0,360],"range":[0,6.28319]}},
"radius":{"datum":888,"type":"quantitative","scale":{"type":"linear","domain":[0,2000],"range":[0,2000]}},
"angle":{"field":"theta","type":"quantitative","legend":null,"scale":{"domain":[180,360],"range":[-90,90]}}}},
{"data":{"values":[{"label":"Akkermansia","theta":310.9}]},"mark":{"type":"text","align":"right","baseline":"middle","fontSize":44,"fontWeight":"bold","color":"#FF2A1C"},"encoding":{
"x":{"datum":0,"type":"quantitative"},"y":{"datum":0,"type":"quantitative"},"text":{"field":"label"},
"theta":{"field":"theta","type":"quantitative","scale":{"domain":[0,360],"range":[0,6.28319]}},
"radius":{"datum":904,"type":"quantitative","scale":{"type":"linear","domain":[0,2000],"range":[0,2000]}},
"angle":{"field":"theta","type":"quantitative","legend":null,"scale":{"domain":[180,360],"range":[-90,90]}}}},
{"data":{"values":[{"label":"Bacteroides","theta":210}]},"mark":{"type":"text","align":"right","baseline":"middle","fontSize":47,"color":"black"},"encoding":{
"x":{"datum":0,"type":"quantitative"},"y":{"datum":0,"type":"quantitative"},"text":{"field":"label"},
"theta":{"field":"theta","type":"quantitative","scale":{"domain":[0,360],"range":[0,6.28319]}},
"radius":{"datum":858,"type":"quantitative","scale":{"type":"linear","domain":[0,2000],"range":[0,2000]}},
"angle":{"field":"theta","type":"quantitative","legend":null,"scale":{"domain":[180,360],"range":[-90,90]}}}},
{"data":{"values":[{"label":"Rikenellaceae_","theta":267.3},{"label":"RC9_gut_group","theta":263.3}]},"mark":{"type":"text","align":"right","baseline":"middle","fontSize":44,"angle":348,"color":"black"},"encoding":{
"x":{"datum":0,"type":"quantitative"},"y":{"datum":0,"type":"quantitative"},"text":{"field":"label"},
"theta":{"field":"theta","type":"quantitative","scale":{"domain":[0,360],"range":[0,6.28319]}},
"radius":{"datum":918,"type":"quantitative","scale":{"type":"linear","domain":[0,2000],"range":[0,2000]}}}},
{"data":{"values":[{"label":"Control"}]},"mark":{"type":"text","align":"center","baseline":"middle","fontSize":74,"angle":313,"color":"black"},"encoding":{
"x":{"datum":0,"type":"quantitative"},"y":{"datum":0,"type":"quantitative"},"text":{"field":"label"},
"theta":{"datum":41,"type":"quantitative","scale":{"domain":[0,360],"range":[0,6.28319]}},
"radius":{"datum":994,"type":"quantitative","scale":{"type":"linear","domain":[0,2000],"range":[0,2000]}}}},
{"data":{"values":[{"label":"Akk"}]},"mark":{"type":"text","align":"center","baseline":"middle","fontSize":78,"angle":36,"color":"black"},"encoding":{
"x":{"datum":0,"type":"quantitative"},"y":{"datum":0,"type":"quantitative"},"text":{"field":"label"},
"theta":{"datum":125.9,"type":"quantitative","scale":{"domain":[0,360],"range":[0,6.28319]}},
"radius":{"datum":930,"type":"quantitative","scale":{"type":"linear","domain":[0,2000],"range":[0,2000]}}}},
{"data":{"values":[{"label":"B"}]},"mark":{"type":"text","align":"center","baseline":"middle","fontSize":90,"color":"black"},"encoding":{
"x":{"datum":0,"type":"quantitative"},"y":{"datum":0,"type":"quantitative"},"text":{"field":"label"},
"theta":{"datum":329.2,"type":"quantitative","scale":{"domain":[0,360],"range":[0,6.28319]}},
"radius":{"datum":1819,"type":"quantitative","scale":{"type":"linear","domain":[0,2000],"range":[0,2000]}}}}
]}
]}
